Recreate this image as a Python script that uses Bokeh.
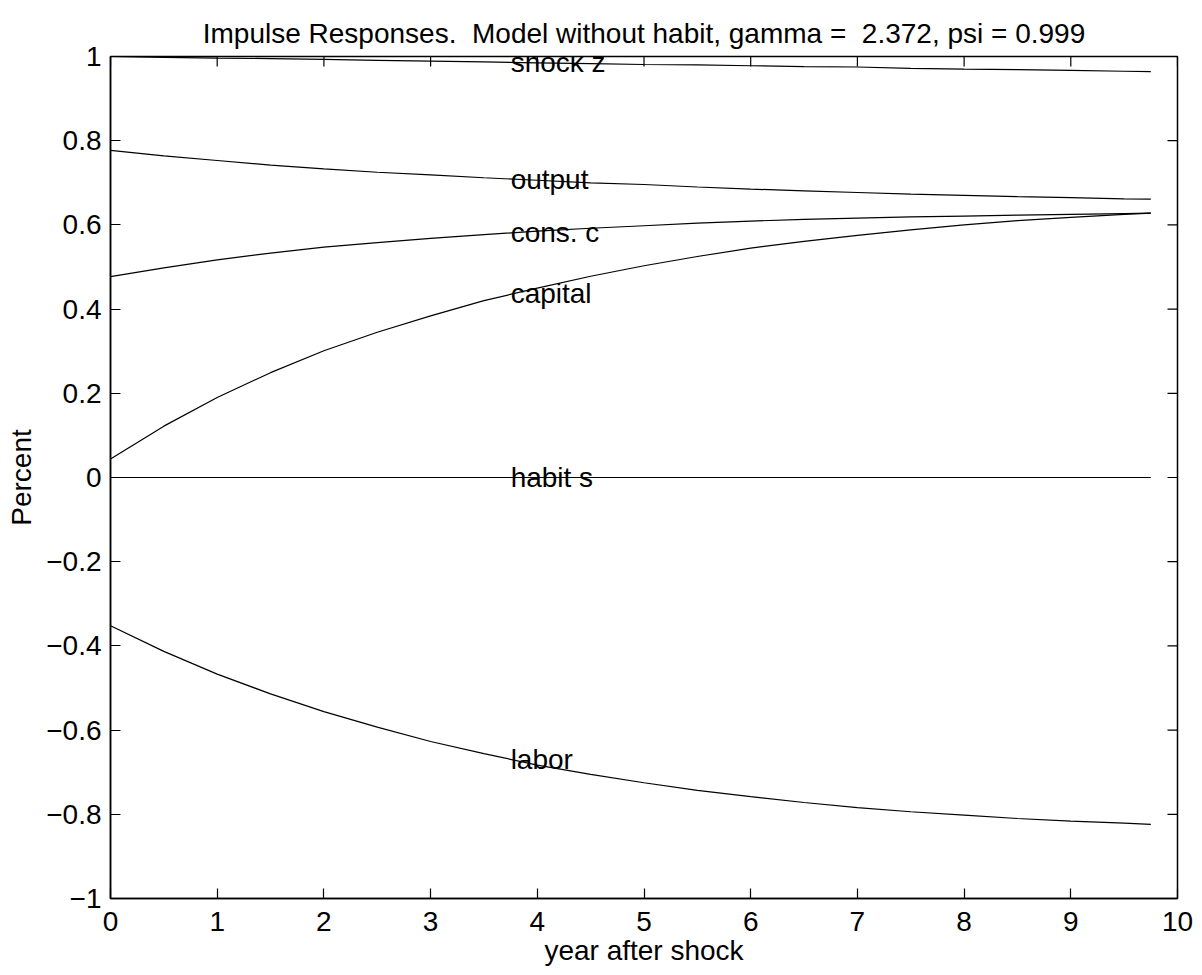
import math
from bokeh.plotting import figure
from bokeh.models import Range1d, FixedTicker, CustomJSTickFormatter, ColumnDataSource
from bokeh.core.properties import value
from bokeh.embed import file_html
from bokeh.resources import INLINE

# ---- data ----
years = [0, 0.5, 1, 1.5, 2, 2.5, 3, 3.5, 4, 4.5, 5, 5.5, 6, 6.5, 7, 7.5, 8, 8.5, 9, 9.5, 9.75]
shock_z = [1.000, 0.998, 0.996, 0.995, 0.993, 0.991, 0.989, 0.987, 0.985, 0.983, 0.981,
           0.980, 0.978, 0.976, 0.975, 0.972, 0.970, 0.969, 0.967, 0.965, 0.964]
output = [0.777, 0.764, 0.753, 0.742, 0.733, 0.725, 0.719, 0.712, 0.706, 0.700, 0.696,
          0.690, 0.685, 0.681, 0.677, 0.673, 0.670, 0.667, 0.665, 0.662, 0.661]
cons_c = [0.477, 0.498, 0.517, 0.533, 0.547, 0.558, 0.568, 0.577, 0.585, 0.592, 0.598,
          0.604, 0.609, 0.613, 0.616, 0.619, 0.621, 0.623, 0.625, 0.627, 0.628]
capital = [0.044, 0.122, 0.190, 0.249, 0.301, 0.345, 0.384, 0.420, 0.450, 0.478, 0.503,
           0.525, 0.545, 0.561, 0.575, 0.588, 0.600, 0.610, 0.618, 0.625, 0.628]
habit_s = [0.0] * 21
labor = [-0.352, -0.413, -0.467, -0.514, -0.556, -0.593, -0.627, -0.656, -0.683, -0.705, -0.725,
         -0.743, -0.758, -0.772, -0.784, -0.794, -0.802, -0.810, -0.816, -0.821, -0.824]

label_names = ["shock z", "output", "cons. c", "capital", "habit s", "labor"]
label_x = [3.75, 3.75, 3.75, 3.75, 3.75, 3.75]
label_y = [0.985, 0.709, 0.582, 0.438, 0.0, -0.669]

x_ticks = [0, 1, 2, 3, 4, 5, 6, 7, 8, 9, 10]
y_ticks = [-1, -0.8, -0.6, -0.4, -0.2, 0, 0.2, 0.4, 0.6, 0.8, 1]

TITLE = "Impulse Responses.\u00a0 Model without habit, gamma =\u00a0 2.372, psi = 0.999"

FONT = "Liberation Sans"
FS = "28px"

X0, X1 = 0, 10
Y0, Y1 = -1, 1

p = figure(width=1202, height=975, x_range=Range1d(X0, X1), y_range=Range1d(Y0, Y1),
           output_backend="svg", toolbar_location=None,
           min_border_left=110, min_border_right=25, min_border_top=56, min_border_bottom=77,
           title=TITLE)

p.title.text_font = FONT
p.title.text_font_size = FS
p.title.text_font_style = "normal"
p.title.align = "center"
p.title.text_color = "black"
p.title.text_line_height = 1.0
p.title.standoff = 16

p.grid.visible = False
p.outline_line_color = "black"
p.outline_line_width = 1.5
p.background_fill_color = "white"
p.border_fill_color = "white"

yfmt = CustomJSTickFormatter(code="""
const a = Math.abs(tick);
const s = a < 1e-9 ? '0' : String(parseFloat(a.toFixed(1)));
return tick < -1e-9 ? '\u2212' + s : s;
""")

def style_axis(ax):
    ax.axis_line_color = "black"
    ax.axis_line_width = 1.5
    ax.major_tick_in = 10
    ax.major_tick_out = 0
    ax.major_tick_line_color = "black"
    ax.major_tick_line_width = 1.2
    ax.minor_tick_line_color = None
    ax.major_label_text_font = FONT
    ax.major_label_text_font_size = FS
    ax.major_label_text_color = "black"
    ax.axis_label_text_font = FONT
    ax.axis_label_text_font_size = FS
    ax.axis_label_text_font_style = "normal"
    ax.axis_label_text_color = "black"

xa = p.xaxis[0]
xa.ticker = FixedTicker(ticks=x_ticks)
style_axis(xa)
xa.axis_label = "year after shock"
xa.major_label_standoff = 13
xa.axis_label_standoff = 1

ya = p.yaxis[0]
ya.ticker = FixedTicker(ticks=y_ticks)
ya.formatter = yfmt
style_axis(ya)
ya.axis_label = "Percent"
ya.major_label_standoff = 9
ya.axis_label_standoff = 6

# inward tick marks on the top and right edges (half of each dash is clipped by the frame)
p.scatter(x=x_ticks, y=[Y1] * len(x_ticks), marker="dash", size=20, angle=math.pi / 2,
          line_color="black", line_width=1.2)
p.scatter(x=[X1] * len(y_ticks), y=y_ticks, marker="dash", size=20, angle=0,
          line_color="black", line_width=1.2)

src = ColumnDataSource(dict(x=years, z=shock_z, y=output, c=cons_c, k=capital, s=habit_s, n=labor))
for col in ["z", "y", "c", "k", "s", "n"]:
    p.line("x", col, source=src, line_color="black", line_width=1.2)

lsrc = ColumnDataSource(dict(x=label_x, y=label_y, t=label_names))
p.text("x", "y", text="t", source=lsrc, text_font=value(FONT), text_font_size=FS,
       text_color="black", text_align="left", text_baseline="middle")

open("out.html", "w").write(file_html(p, INLINE))
